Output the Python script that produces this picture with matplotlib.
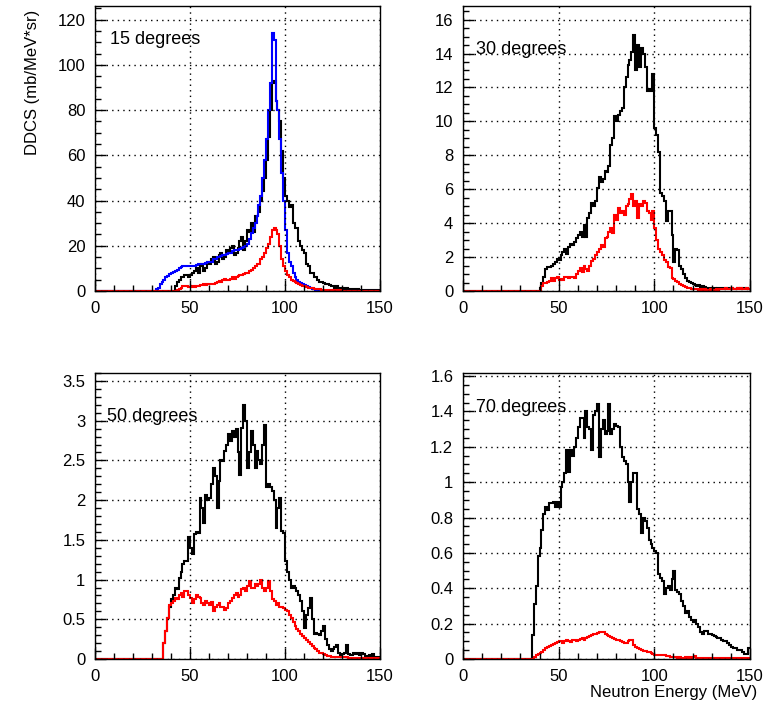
import numpy as np
import matplotlib
matplotlib.use('Agg')
from matplotlib import pyplot as plt
from matplotlib.ticker import MultipleLocator, StrMethodFormatter

plt.rcParams['font.family'] = ['Liberation Sans', 'DejaVu Sans']

edges = np.arange(0, 151, 1)    # 1 MeV bins, 0..150 MeV

# ---- 15 degrees ----
exp15_start = 42
exp15 = [2, 4, 5, 6, 6, 7, 7, 6, 7, 8,
         9, 10, 8, 11, 12, 9, 10, 13, 12, 14,
         15, 12, 13, 16, 17, 14, 15, 18, 17, 19,
         20, 16, 17, 19, 22, 24, 18, 22, 27, 26,
         30, 26, 33, 33, 35, 40, 44, 50, 58, 68,
         80, 92, 93, 84, 80, 75, 62, 50, 42, 40,
         37, 38, 30, 28, 28, 22, 20, 18, 17, 12,
         11, 8, 8, 6, 6, 5, 4, 4, 3.5, 3,
         3, 2.5, 2, 2, 1.5, 2, 1.5, 1.5, 1.5, 1,
         1.5, 1, 1, 1, 1, 0.5, 1, 0.5, 0.5, 0.5,
         0.5, 0.5, 0.5, 0.5, 0.5, 0.5, 0.5, 0.5]
calcA15_start = 32
calcA15 = [1, 1.5, 3, 4, 5, 6, 6.5, 7.5, 8, 8.5,
           9, 9.5, 10, 10.5, 11, 11, 11, 11, 11, 11,
           11, 11.5, 12, 12, 12, 12, 12.5, 13, 13, 13,
           14, 14, 15, 15, 15.5, 16, 16, 16.5, 17, 17,
           17.5, 18, 18, 18, 18.5, 19, 19.5, 20, 21, 23,
           25.5, 28, 30, 33, 38, 42, 50, 58, 67, 80,
           92, 114, 111, 84, 80, 67, 52, 40, 27, 17,
           13, 11, 8, 6, 5, 4, 3.4, 3, 2.5, 2,
           1.6, 1.2, 1, 0.7, 0.4, 0.2]
calcB15_start = 43
calcB15 = [0.5, 1, 1.5, 2, 2, 2, 1.8, 1.8, 2, 1.8,
           2, 2, 2.5, 2.5, 3, 2.5, 3, 3, 3, 3,
           3.5, 4, 4.5, 4, 5, 5.5, 5, 5, 5.5, 6,
           5.5, 6, 6.5, 7, 7, 7.5, 8, 8, 9, 9.5,
           10, 11, 12, 12, 14, 15, 17, 19, 21, 24,
           27, 28, 27, 25, 20, 14, 11, 9, 7, 6,
           5, 4.5, 4, 3.5, 3, 2.5, 2.2, 2, 1.7, 1.5,
           1.3, 1.2, 1, 1, 0.8, 0.7, 0.6, 0.5, 0.5, 0.4,
           0.4, 0.4, 0.3, 0.3, 0.3, 0.3, 0.3, 0.2, 0.2, 0.2,
           0.2, 0.2, 0.2, 0.2, 0.1, 0.1, 0.1, 0.1, 0.1, 0.1,
           0.1, 0.1, 0.1, 0.1, 0.1, 0.1, 0.1]

# ---- 30 degrees ----
exp30_start = 40
exp30 = [0.2, 0.5, 0.8, 1.3, 1.4, 1.4, 1.5, 1.6, 1.7, 1.9,
         1.8, 2.1, 2.3, 2.5, 2.2, 2.6, 2.8, 2.7, 2.9, 3.1,
         3.3, 3.5, 3.2, 3.9, 3.2, 4.3, 4.6, 5.2, 5.0, 5.3,
         6.1, 6.7, 6.4, 6.6, 7.1, 7.0, 7.35, 8.6, 9.0, 10.3,
         10.0, 10.4, 10.6, 10.8, 12.0, 12.6, 13.3, 13.6, 14.1, 15.1,
         13.0, 14.5, 13.2, 14.3, 14.0, 13.2, 11.8, 11.9, 11.8, 12.8,
         9.6, 9.2, 8.2, 5.8, 5.6, 5.3, 4.1, 4.7, 4.7, 3.3,
         1.7, 2.5, 2.4, 1.5, 1.3, 1.0, 0.75, 0.6, 0.55, 0.5,
         0.4, 0.35, 0.3, 0.35, 0.25, 0.3, 0.25, 0.2, 0.2, 0.15,
         0.2, 0.15, 0.1, 0.2, 0.15, 0.1, 0.15, 0.1, 0.15, 0.1,
         0.15, 0.1, 0.1, 0.15, 0.2, 0.1, 0.15, 0.1, 0.2, 0.1]
calc30_start = 41
calc30 = [0.3, 0.45, 0.5, 0.55, 0.6, 0.75, 0.6, 0.75, 0.8, 0.65,
          0.7, 0.65, 0.8, 0.85, 0.75, 0.85, 0.8, 0.75, 1.0, 1.2,
          1.35, 1.1, 1.45, 1.3, 1.15, 1.5, 1.75, 1.9, 2.1, 2.3,
          2.5, 2.7, 2.6, 3.1, 3.2, 3.5, 3.7, 3.4, 4.5, 4.2,
          4.9, 4.6, 4.7, 4.5, 5.0, 5.1, 5.4, 5.7, 5.0, 5.3,
          4.3, 5.1, 5.0, 5.3, 5.2, 4.7, 4.6, 4.2, 4.7, 3.7,
          3.0, 2.5, 2.3, 2.1, 1.8, 1.7, 1.4, 1.35, 0.75, 0.7,
          0.6, 0.55, 0.4, 0.35, 0.3, 0.25, 0.2, 0.15, 0.12, 0.1,
          0.1, 0.1, 0.08, 0.1, 0.08, 0.1, 0.08, 0.08, 0.1, 0.08,
          0.08, 0.1, 0.08, 0.1, 0.12, 0.1, 0.15, 0.1, 0.12, 0.15,
          0.1, 0.12, 0.15, 0.1, 0.15, 0.12, 0.1, 0.15, 0.12]

# ---- 50 degrees ----
exp50_start = 36
exp50 = [0.2, 0.35, 0.52, 0.65, 0.75, 0.81, 0.9, 0.88, 1.02, 1.1,
         1.19, 1.23, 1.23, 1.53, 1.4, 1.32, 1.57, 1.6, 1.59, 2.03,
         1.9, 1.71, 2.07, 2.0, 2.03, 2.2, 2.41, 2.3, 1.9, 2.24,
         2.5, 2.49, 2.62, 2.7, 2.83, 2.74, 2.87, 2.8, 2.89, 2.6,
         2.32, 2.91, 3.2, 3.0, 2.41, 2.6, 2.87, 2.7, 2.41, 2.62,
         2.5, 2.45, 2.7, 2.95, 2.16, 2.2, 2.16, 2.11, 2.0, 1.65,
         1.9, 2.03, 1.61, 1.59, 1.23, 1.1, 1.0, 0.9, 0.92, 0.9,
         0.85, 0.8, 0.73, 0.6, 0.39, 0.55, 0.64, 0.77, 0.5, 0.31,
         0.33, 0.31, 0.3, 0.35, 0.41, 0.25, 0.18, 0.12, 0.1, 0.12,
         0.15, 0.18, 0.08, 0.05, 0.06, 0.08, 0.18, 0.06, 0.05, 0.05,
         0.08, 0.06, 0.07, 0.05, 0.07, 0.06, 0.04, 0.03, 0.05, 0.03,
         0.06, 0.02, 0.03, 0.02]
calc50_start = 36
calc50 = [0.2, 0.35, 0.52, 0.68, 0.7, 0.73, 0.77, 0.75, 0.8, 0.83,
          0.78, 0.85, 0.85, 0.8, 0.77, 0.71, 0.75, 0.81, 0.78, 0.77,
          0.7, 0.68, 0.73, 0.7, 0.68, 0.72, 0.6, 0.65, 0.68, 0.7,
          0.66, 0.65, 0.62, 0.64, 0.7, 0.73, 0.77, 0.8, 0.83, 0.78,
          0.81, 0.88, 0.9, 0.86, 0.92, 0.98, 0.9, 0.9, 0.94, 0.92,
          0.95, 1.0, 0.9, 0.85, 0.9, 0.98, 0.85, 0.75, 0.73, 0.68,
          0.7, 0.66, 0.65, 0.64, 0.62, 0.6, 0.55, 0.52, 0.46, 0.41,
          0.38, 0.35, 0.32, 0.29, 0.26, 0.24, 0.22, 0.19, 0.16, 0.14,
          0.12, 0.1, 0.08, 0.07, 0.06, 0.05, 0.04, 0.04, 0.03, 0.03,
          0.03, 0.03, 0.02, 0.02, 0.02, 0.02, 0.02, 0.01, 0.01, 0.01,
          0.01, 0.01, 0.01, 0.01, 0.01, 0.01, 0.01, 0.01, 0.01, 0.01,
          0.01, 0.01, 0.01, 0.01]

# ---- 70 degrees ----
exp70_start = 36
exp70 = [0.135, 0.31, 0.41, 0.58, 0.63, 0.73, 0.82, 0.86, 0.84, 0.88,
         0.88, 0.89, 0.86, 0.89, 0.86, 0.97, 1.0, 1.05, 1.18, 1.06,
         1.18, 1.15, 1.2, 1.25, 1.31, 1.36, 1.36, 1.25, 1.4, 1.31,
         1.3, 1.18, 1.38, 1.4, 1.44, 1.14, 1.3, 1.35, 1.27, 1.29,
         1.44, 1.27, 1.3, 1.33, 1.32, 1.31, 1.2, 1.14, 1.12, 1.1,
         1.0, 0.89, 1.0, 1.05, 1.05, 0.85, 0.82, 0.71, 0.8, 0.78,
         0.74, 0.67, 0.65, 0.63, 0.61, 0.6, 0.48, 0.46, 0.44, 0.37,
         0.4, 0.41, 0.39, 0.45, 0.5, 0.39, 0.38, 0.37, 0.33, 0.3,
         0.26, 0.27, 0.24, 0.22, 0.21, 0.22, 0.2, 0.18, 0.15, 0.14,
         0.16, 0.16, 0.14, 0.14, 0.135, 0.13, 0.125, 0.12, 0.12, 0.11,
         0.1, 0.1, 0.09, 0.08, 0.07, 0.06, 0.06, 0.05, 0.05, 0.05,
         0.04, 0.03, 0.03, 0.06]
calc70_start = 37
calc70 = [0.013, 0.02, 0.03, 0.035, 0.04, 0.05, 0.06, 0.07, 0.075, 0.08,
          0.085, 0.09, 0.095, 0.1, 0.1, 0.09, 0.1, 0.105, 0.1, 0.095,
          0.105, 0.107, 0.1, 0.11, 0.115, 0.116, 0.11, 0.12, 0.125, 0.13,
          0.135, 0.14, 0.144, 0.145, 0.15, 0.154, 0.15, 0.14, 0.135, 0.13,
          0.125, 0.12, 0.115, 0.11, 0.107, 0.1, 0.095, 0.09, 0.09, 0.1,
          0.105, 0.107, 0.08, 0.07, 0.06, 0.055, 0.05, 0.048, 0.045, 0.04,
          0.04, 0.035, 0.03, 0.02, 0.02, 0.022, 0.02, 0.02, 0.02, 0.018,
          0.015, 0.013, 0.012, 0.01, 0.01, 0.008, 0.01, 0.008, 0.008, 0.01,
          0.008, 0.012, 0.008, 0.01, 0.015, 0.008, 0.006, 0.008, 0.006, 0.008,
          0.006, 0.005, 0.006, 0.005, 0.006, 0.005, 0.005, 0.006, 0.005, 0.005,
          0.005, 0.006, 0.005, 0.005, 0.005, 0.005, 0.005, 0.005, 0.005, 0.005,
          0.005, 0.005, 0.005]


def full(start, vals):
    h = np.zeros(len(edges) - 1)
    h[start:start + len(vals)] = vals
    return h


panels = [
    # (axes rect in px: left, top, right, bottom), ymax, major, minor, label, label pos, series
    ((95, 6, 380, 291), 126, 20, 5, '15 degrees', (8, 111),
     [(exp15_start, exp15, 'black'), (calcA15_start, calcA15, 'blue'), (calcB15_start, calcB15, 'red')]),
    ((463, 6, 750, 291), 16.8, 2, 0.5, '30 degrees', (7, 14.25),
     [(exp30_start, exp30, 'black'), (calc30_start, calc30, 'red')]),
    ((95, 373, 380, 659), 3.6, 0.5, 0.1, '50 degrees', (6.5, 3.05),
     [(exp50_start, exp50, 'black'), (calc50_start, calc50, 'red')]),
    ((463, 373, 750, 659), 1.617, 0.2, 0.05, '70 degrees', (7, 1.42),
     [(exp70_start, exp70, 'black'), (calc70_start, calc70, 'red')]),
]

W, H = 767, 710
fig = plt.figure(figsize=(W / 100, H / 100), dpi=100)

for rect, ymax, major, minor, label, lpos, series in panels:
    l, t, r, b = rect
    ax = fig.add_axes([l / W, 1 - b / H, (r - l) / W, (b - t) / H])
    for start, vals, col in series:
        ax.stairs(full(start, vals), edges, color=col, lw=1.5, baseline=None)
    ax.set_xlim(0, 150)
    ax.set_ylim(0, ymax)
    ax.xaxis.set_major_locator(MultipleLocator(50))
    ax.xaxis.set_minor_locator(MultipleLocator(10))
    ax.yaxis.set_major_locator(MultipleLocator(major))
    ax.yaxis.set_minor_locator(MultipleLocator(minor))
    ax.yaxis.set_major_formatter(StrMethodFormatter('{x:g}'))
    ax.tick_params(which='both', direction='in', top=False, right=False,
                   labelsize=12, width=1)
    ax.tick_params(which='major', length=8, pad=7)
    ax.tick_params(which='minor', length=4)
    ax.grid(which='major', color='black', linestyle=(0, (1, 3)), lw=1)
    for s in ax.spines.values():
        s.set_linewidth(1)
    ax.text(lpos[0], lpos[1], label, fontsize=13, ha='left', va='center')

fig.text(33 / W, 1 - 10 / H, 'DDCS (mb/MeV*sr)', rotation=90,
         ha='center', va='top', fontsize=12)
fig.text(757 / W, 1 - 692 / H, 'Neutron Energy (MeV)', ha='right',
         va='center', fontsize=12)

fig.savefig('out.png', dpi=100)
